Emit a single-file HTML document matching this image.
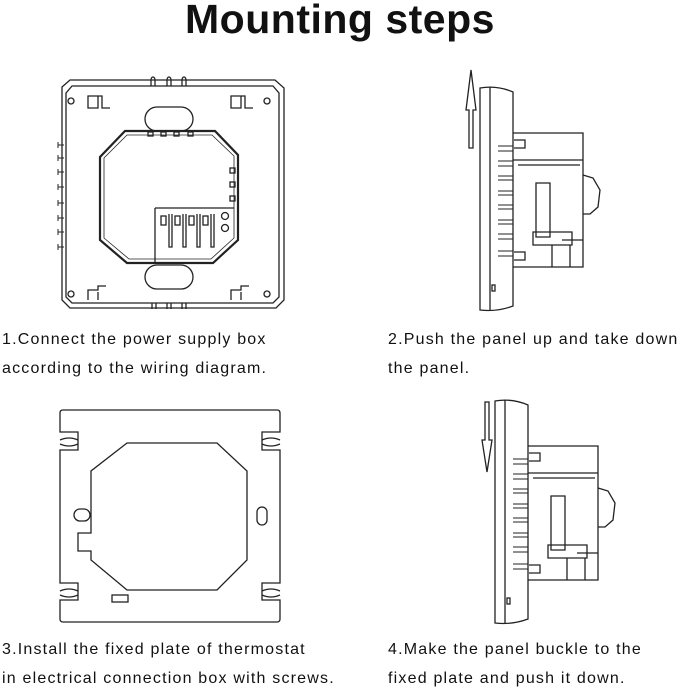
<!DOCTYPE html>
<html><head><style>
html,body{margin:0;padding:0;background:#fff;width:679px;height:689px;overflow:hidden}
svg{display:block}
text{font-family:"Liberation Sans",sans-serif;fill:#111}
.c{font-size:16px;letter-spacing:1.2px}
</style></head><body>
<svg width="679" height="689" viewBox="0 0 679 689" fill="none" stroke="#222" stroke-width="1.3">
<text x="340" y="33" text-anchor="middle" stroke="none" style="font-size:41px;font-weight:bold;letter-spacing:0.5px">Mounting steps</text>

<g>
<path d="M62 87 L70 80 L275 80 L284 88 L284 300 L276 308 L70 308 L62 300 Z"/>
<path d="M66 93 L72 86 L273 86 L279 93 L279 297 L273 303 L72 303 L66 297 Z"/>
<circle cx="71" cy="101" r="3"/><circle cx="267" cy="101" r="3"/>
<circle cx="71" cy="294" r="3"/><circle cx="267" cy="294" r="3"/>
<path d="M88 96 h10 v12 h-10 z M98 96 h4 v12 h8"/>
<path d="M231 96 h10 v12 h-10 z M241 96 h4 v12 h8"/>
<path d="M88 300 v-10 h10 v-4 h8 M98 300 v-8"/>
<path d="M231 300 v-10 h10 v-4 h8 M241 300 v-8"/>
<path d="M151 86 v-6 a2 3 0 0 1 4 0 v6 M167 86 v-6 a2 3 0 0 1 4 0 v6 M182 86 v-6 a2 3 0 0 1 4 0 v6"/>
<path d="M152 303 v6 M156 303 v6 M167 303 v6 M171 303 v6 M182 303 v6 M186 303 v6"/>
<rect x="145" y="107" width="48" height="24" rx="12"/>
<rect x="145" y="265" width="48" height="24" rx="12"/>
<path d="M100 157 L125 131 L215 131 L238 155 L238 240 L213 263 L127 263 L100 240 Z" stroke-width="2.2"/>
<path d="M104 158 L127 135 L212 135 L234 156 L234 238 L211 259 L129 259 L104 238 Z" stroke-width="0.8"/>
<path d="M155 208 H234 M155 208 V262"/>
<rect x="161" y="216" width="5" height="9"/><rect x="175" y="216" width="5" height="9"/><rect x="189" y="216" width="5" height="9"/><rect x="203" y="216" width="5" height="9"/>
<path d="M169 214 v33 h3 v-33 M183 214 v33 h3 v-33 M197 214 v33 h3 v-33 M211 214 v33 h3 v-33"/>
<circle cx="225" cy="216" r="3.5"/><circle cx="225" cy="228" r="3.5"/>
<rect x="230" y="168" width="5" height="5"/><rect x="230" y="182" width="5" height="5"/><rect x="230" y="196" width="5" height="5"/>
<rect x="148" y="132" width="5" height="4"/><rect x="161" y="132" width="5" height="4"/><rect x="174" y="132" width="5" height="4"/><rect x="188" y="132" width="5" height="4"/>
<g stroke-width="1">
<path d="M58 145 h6 M58 158 h6 M58 172 h6 M58 187 h6 M58 203 h6 M58 218 h6 M58 232 h6 M58 247 h6"/>
<path d="M58 142 v6 M58 155 v6 M58 169 v6 M58 184 v6 M58 200 v6 M58 215 v6 M58 229 v6 M58 244 v6"/>
</g>
</g>

<defs>
<g id="side">
<path d="M480 88 Q497 85 513 92 L513 306 Q497 312 480 310 Z"/>
<path d="M490 87 V311"/>
<path d="M513 133 H583 V267 H513 M513 160 H583 M518 165 H580"/>
<path d="M583 175 L593 178 L600 190 L598 207 L590 214 L583 214"/>
<path d="M536 183 H550 V237 H536 Z M533 232 H572 V245 H533 Z M562 240 H583 M570 245 V267 M552 245 V267"/>
<path d="M514 140 H525 V148 H514 M514 252 H525 V260 H514"/>
<g stroke-width="1">
<path d="M498 146 h15 M498 151 h15 M498 161 h15 M498 166 h15 M498 176 h15 M498 180 h15 M498 191 h15 M498 195 h15 M498 205 h15 M498 209 h15 M498 220 h15 M498 224 h15 M498 234 h15 M498 239 h15 M498 251 h15 M498 256 h15"/>
</g>
<rect x="492" y="285" width="3" height="6"/>
</g>
</defs>

<use href="#side"/>
<path d="M469 148 V110 H466 L471 70 L476 110 H473 V148 Z"/>

<use href="#side" transform="translate(15,313)"/>
<path d="M485 402 V440 H482 L487 472 L492 440 H489 V402 Z"/>

<g>
<path d="M63 410 H277 Q280 410 280 413 V432 H262 V450 H280 V583 H262 V600 H280 V619 Q280 622 277 622 H63 Q60 622 60 619 V600 H78 V583 H60 V450 H78 V432 H60 V413 Q60 410 63 410 Z"/>
<path d="M60 440 Q69 436 78 440 M60 444 Q69 448 78 444 M262 440 Q271 436 280 440 M262 444 Q271 448 280 444 M60 591 Q69 587 78 591 M60 595 Q69 599 78 595 M262 591 Q271 587 280 591 M262 595 Q271 599 280 595"/>
<path d="M127 443 H217 L247 471 V560 L217 590 H127 L91 560 V551 H78 V533 H91 V471 Z"/>
<rect x="74" y="509" width="16" height="12" rx="6"/>
<rect x="257" y="507" width="10" height="18" rx="5"/>
<rect x="112" y="595" width="16" height="7"/>
</g>

<g stroke="none">
<text class="c" x="2" y="344">1.Connect the power supply box</text>
<text class="c" x="2" y="373">according to the wiring diagram.</text>
<text class="c" x="388" y="344">2.Push the panel up and take down</text>
<text class="c" x="388" y="373">the panel.</text>
<text class="c" x="2" y="654">3.Install the fixed plate of thermostat</text>
<text class="c" x="2" y="683">in electrical connection box with screws.</text>
<text class="c" x="388" y="654">4.Make the panel buckle to the</text>
<text class="c" x="388" y="683">fixed plate and push it down.</text>
</g>
</svg>
</body></html>
